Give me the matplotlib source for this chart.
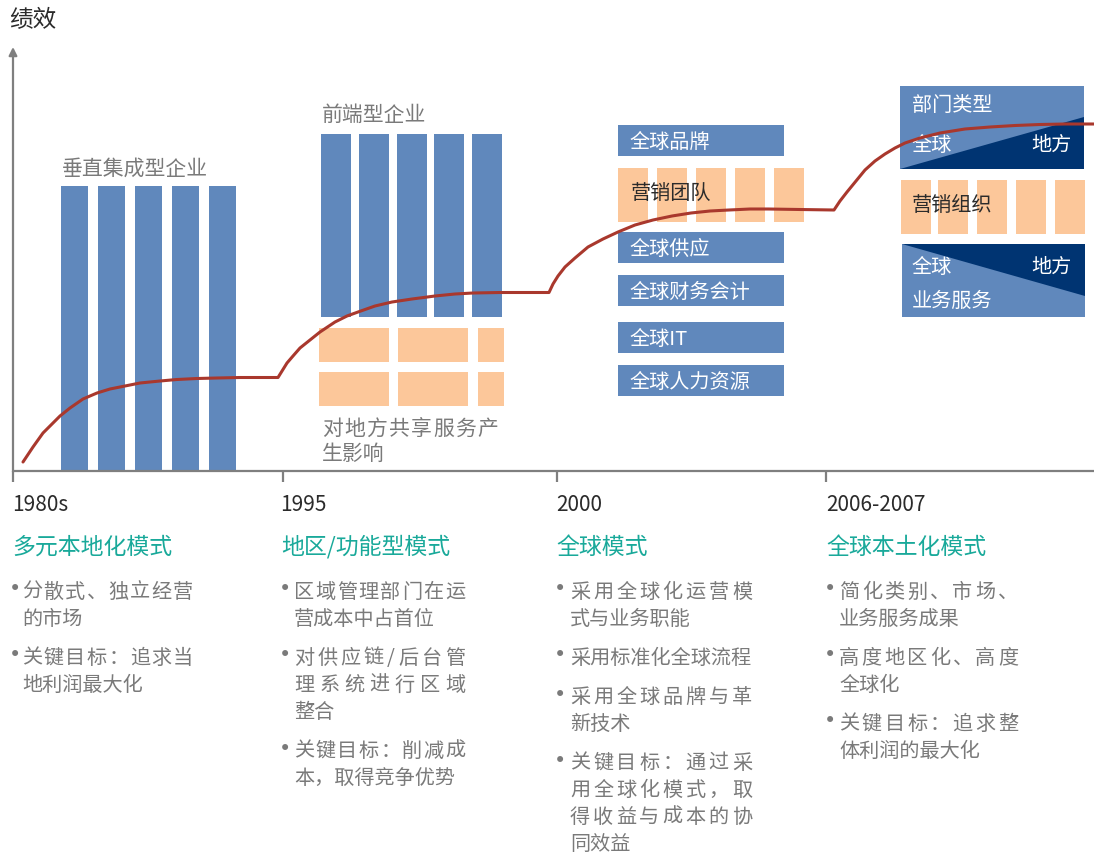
import matplotlib
matplotlib.use("Agg")
import matplotlib.pyplot as plt
from matplotlib.patches import Rectangle, Polygon

plt.rcParams['font.family'] = ['Noto Sans CJK SC', 'DejaVu Sans']

W, H = 1094, 856
BLUE = '#6088BC'
PEACH = '#FCC79A'
NAVY = '#003472'
RED = '#A9382D'
AXIS = '#7F7F7F'
GRAY = '#7A7A7A'
TEAL = '#19A99A'
DARK = '#2B2B2B'

# ---------------- data ----------------
y_label = '绩效'
era_years = ['1980s', '1995', '2000', '2006-2007']
era_tick_x = [13, 283, 557, 826]
era_titles = ['多元本地化模式', '地区/功能型模式', '全球模式', '全球本土化模式']

# performance curve
perf_x = [23, 33, 43, 52, 60, 70, 83, 97, 110, 125, 140, 160, 177, 197, 217, 240, 260, 278,
          287, 293, 300, 310, 320, 335, 347, 358, 375, 392, 412, 435, 455, 473, 500, 525, 549,
          553, 558, 565, 575, 588, 603, 618, 635, 653, 672, 691, 710, 729, 750, 768, 800, 834,
          840, 847, 856, 865, 875, 885, 895, 905, 920, 940, 965, 990, 1015, 1040, 1065, 1094]
perf_y = [462, 447, 433, 424, 416, 408, 399, 393, 389, 386, 383, 381, 379.5, 378.5, 378, 377.5, 377.5, 377.5,
          363, 356, 348, 340, 332, 322, 316, 312, 306, 302, 299, 296, 294, 293, 292.5, 292.5, 292.5,
          284, 276, 267, 258, 247, 239, 232, 225, 220, 216, 213, 211, 210, 209, 209, 209.5, 210,
          201, 192, 181, 170, 161, 154, 148, 143, 138, 133, 129, 127, 125.5, 124.5, 124, 124]

# era 1: vertically integrated enterprise
era1_label = '垂直集成型企业'
era1_bar_x = [61, 98, 135, 172, 209]
era1_bar_w = 27
era1_bar_top, era1_bar_bottom = 186, 470

# era 2: front-end enterprise
era2_label = '前端型企业'
era2_bar_x = [321, 359, 397, 434, 472]
era2_bar_w = 30
era2_bar_top, era2_bar_bottom = 134, 317
era2_share_x = [319, 398, 478]
era2_share_w = [70, 70, 26]
era2_share_rows = [(328, 362), (372, 406)]
era2_note = ['对地方共享服务产', '生影响']

# era 3: global model
era3_boxes = ['全球品牌', '全球供应', '全球财务会计', '全球IT', '全球人力资源']
era3_box_y = [(125, 156), (232, 263), (275, 306), (322, 353), (365, 396)]
era3_box_x = (618, 784)
era3_team_label = '营销团队'
era3_team_x = [618, 657, 696, 735, 774]
era3_team_w = 30
era3_team_y = (168, 222)

# era 4: glocal model
era4_top_label = '部门类型'
era4_top_box = (900, 86, 1084, 169)
era4_top_tri = [(900, 169), (1084, 117), (1084, 169)]
era4_org_label = '营销组织'
era4_org_x = [901, 938, 977, 1016, 1055]
era4_org_w = 30
era4_org_y = (180, 234)
era4_bot_label = '业务服务'
era4_bot_box = (902, 244, 1085, 317)
era4_bot_tri = [(902, 244), (1085, 244), (1085, 296)]
glob_word, local_word = '全球', '地方'

# bullets per era: list of bullets, each a list of lines
bullets = [
    [['分散式、独立经营', '的市场'], ['关键目标：追求当', '地利润最大化']],
    [['区域管理部门在运', '营成本中占首位'], ['对供应链/后台管', '理系统进行区域', '整合'],
     ['关键目标：削减成', '本，取得竞争优势']],
    [['采用全球化运营模', '式与业务职能'], ['采用标准化全球流程'], ['采用全球品牌与革', '新技术'],
     ['关键目标：通过采', '用全球化模式，取', '得收益与成本的协', '同效益']],
    [['简化类别、市场、', '业务服务成果'], ['高度地区化、高度', '全球化'], ['关键目标：追求整', '体利润的最大化']],
]
bullet_col_left = [22, 294, 570, 839]
bullet_col_right = [193, 465, 752, 1018]
bullet_dot_x = [15, 285, 560, 830]

# ---------------- figure ----------------
fig = plt.figure(figsize=(W / 100, H / 100), dpi=100)
ax = fig.add_axes([0, 0, 1, 1])
ax.set_xlim(0, W)
ax.set_ylim(H, 0)
ax.axis('off')

PX = 100 / 72.0  # px per pt


def char_w(ch):
    return 0.42 if ord(ch) < 0x2000 else 1.0


def put(x, yc, s, size, color, right=None, kind='cjk'):
    em = size * PX
    base = yc + (0.38 if kind == 'cjk' else 0.36) * em
    if right is None or len(s) < 2:
        ax.text(x, base, s, fontsize=size, color=color, ha='left', va='baseline')
        return
    widths = [char_w(c) * em for c in s]
    gap = (right - x - sum(widths)) / (len(s) - 1)
    cx = x
    for ch, w in zip(s, widths):
        ax.text(cx, base, ch, fontsize=size, color=color, ha='left', va='baseline')
        cx += w + gap


def rect(x0, y0, x1, y1, color, z=2):
    ax.add_patch(Rectangle((x0, y0), x1 - x0, y1 - y0, facecolor=color, edgecolor='none', zorder=z))


# axes
ax.plot([12, W], [471, 471], color=AXIS, lw=1.6, solid_capstyle='butt', zorder=3)
ax.annotate('', xy=(13, 47), xytext=(13, 472),
            arrowprops=dict(arrowstyle='-|>', color=AXIS, lw=1.6, mutation_scale=12, shrinkA=0, shrinkB=0),
            zorder=3)
for tx in era_tick_x:
    ax.plot([tx, tx], [471, 482], color=AXIS, lw=1.6, solid_capstyle='butt', zorder=3)

put(9, 18, y_label, 17, DARK)

# era 1
for bx in era1_bar_x:
    rect(bx, era1_bar_top, bx + era1_bar_w, era1_bar_bottom, BLUE)
put(62, 167, era1_label, 15, GRAY)

# era 2
for bx in era2_bar_x:
    rect(bx, era2_bar_top, bx + era2_bar_w, era2_bar_bottom, BLUE)
for (y0, y1) in era2_share_rows:
    for sx, sw in zip(era2_share_x, era2_share_w):
        rect(sx, y0, sx + sw, y1, PEACH)
put(322, 113, era2_label, 15, GRAY)
put(322, 427, era2_note[0], 15, GRAY, right=498)
put(322, 452, era2_note[1], 15, GRAY)

# era 3
for (y0, y1), lab in zip(era3_box_y, era3_boxes):
    rect(era3_box_x[0], y0, era3_box_x[1], y1, BLUE)
    put(630, (y0 + y1) / 2, lab, 14.5, 'white')
for tx in era3_team_x:
    rect(tx, era3_team_y[0], tx + era3_team_w, era3_team_y[1], PEACH)
put(631, 192, era3_team_label, 14.5, DARK)

# era 4
x0, y0, x1, y1 = era4_top_box
rect(x0, y0, x1, y1, BLUE)
ax.add_patch(Polygon(era4_top_tri, closed=True, facecolor=NAVY, edgecolor='none', zorder=2))
put(912, 103, era4_top_label, 14.5, 'white')
put(912, 143, glob_word, 14.5, 'white')
put(1031, 143, local_word, 14.5, 'white')
for ox in era4_org_x:
    rect(ox, era4_org_y[0], ox + era4_org_w, era4_org_y[1], PEACH)
put(912, 203, era4_org_label, 14.5, DARK)
x0, y0, x1, y1 = era4_bot_box
rect(x0, y0, x1, y1, BLUE)
ax.add_patch(Polygon(era4_bot_tri, closed=True, facecolor=NAVY, edgecolor='none', zorder=2))
put(912, 265, glob_word, 14.5, 'white')
put(1031, 265, local_word, 14.5, 'white')
put(912, 299, era4_bot_label, 14.5, 'white')

# performance curve
ax.plot(perf_x, perf_y, color=RED, lw=2.2, solid_joinstyle='round', solid_capstyle='round', zorder=5)

# years + titles
year_x = [12, 280, 556, 826]
for yx, yr in zip(year_x, era_years):
    put(yx, 503, yr, 15, DARK, kind='latin')
title_x = [12, 281, 556, 826]
for tx, tt in zip(title_x, era_titles):
    put(tx, 545, tt, 16.5, TEAL)

# bullets
LINE, GAP = 27, 39
for i, blist in enumerate(bullets):
    y = 590
    for bl in blist:
        ax.text(bullet_dot_x[i], y + 5.5, '•', fontsize=15, color=GRAY, family='DejaVu Sans',
                ha='center', va='baseline')
        for j, line in enumerate(bl):
            last = (j == len(bl) - 1)
            put(bullet_col_left[i], y, line, 14.5, GRAY,
                right=None if last else bullet_col_right[i])
            y += LINE
        y += GAP - LINE

fig.savefig('out.png', dpi=100)
